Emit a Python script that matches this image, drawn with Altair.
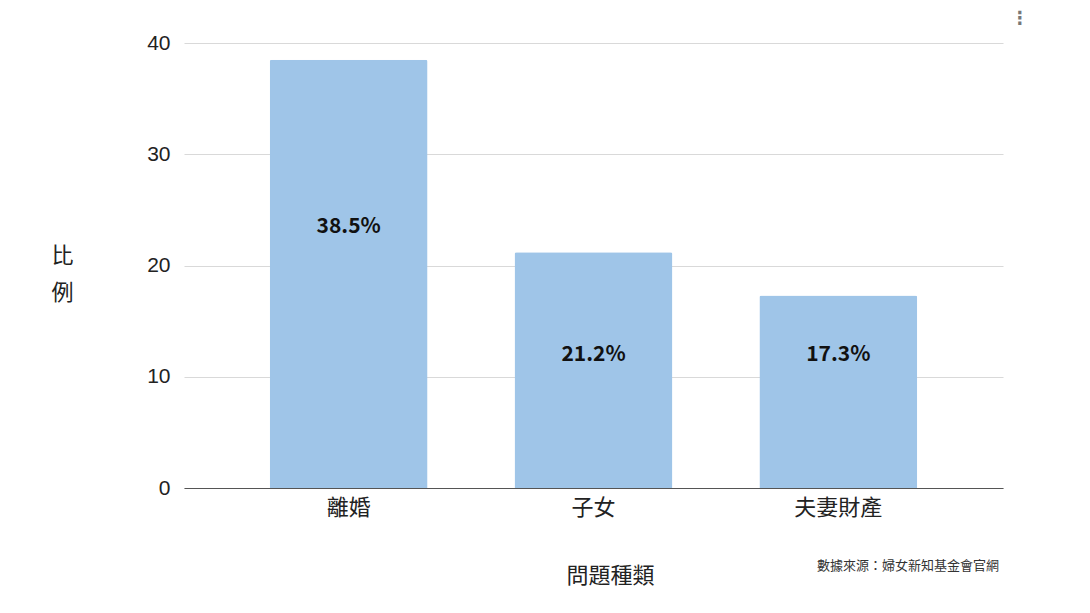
import altair as alt
import pandas as pd

categories = ["離婚", "子女", "夫妻財產"]
values = [38.5, 21.2, 17.3]
labels = ["38.5%", "21.2%", "17.3%"]
label_y = [23.5, 12.0, 12.0]
y_ticks = [0, 10, 20, 30, 40]
source_text = "數據來源：婦女新知基金會官網"

df = pd.DataFrame({"cat": categories, "val": values, "lab": labels, "ly": label_y})

CJK = "Noto Sans CJK TC"

x_enc = alt.X(
    "cat:N",
    sort=categories,
    scale=alt.Scale(paddingInner=0.355, paddingOuter=0.35),
    axis=alt.Axis(
        title="問題種類",
        titleFont=CJK, titleFontSize=22, titleFontWeight="normal", titleColor="#222",
        titleX=426, titleY=87, titleBaseline="middle", titleAlign="center",
        labelFont=CJK, labelFontSize=22, labelColor="#222", labelAngle=0,
        labelPadding=9, ticks=False, domainColor="#555", domainWidth=1,
        grid=False,
    ),
)

bars = alt.Chart(df).mark_bar(color="#9fc5e8", cornerRadiusTopLeft=2, cornerRadiusTopRight=2).encode(
    x=x_enc,
    y=alt.Y(
        "val:Q",
        scale=alt.Scale(domain=[0, 40]),
        axis=alt.Axis(
            values=y_ticks,
            title=["比", "例"],
            titleFont=CJK, titleFontSize=22, titleFontWeight="normal", titleColor="#222",
            titleAngle=0, titleX=-122, titleY=212, titleBaseline="middle", titleAlign="center",
            titleLineHeight=37,
            labelFont="Liberation Sans", labelFontSize=21, labelColor="#222",
            labelPadding=14, ticks=False, domain=False,
            gridColor="#d9d9d9", gridWidth=1,
        ),
    ),
)

text = alt.Chart(df).mark_text(
    font=CJK, fontSize=21, fontWeight="bold", color="#111", baseline="middle"
).encode(
    x=alt.X("cat:N", sort=categories),
    y=alt.Y("ly:Q"),
    text="lab:N",
)

src = alt.Chart(pd.DataFrame({"t": [source_text]})).mark_text(
    font=CJK, fontSize=13, color="#333", align="left", baseline="middle"
).encode(
    x=alt.value(633), y=alt.value(523), text="t:N"
)

dots = alt.Chart(pd.DataFrame({"t": ["⋮"]})).mark_text(
    font="DejaVu Sans", fontSize=18, fontWeight="bold", color="#777", align="center", baseline="middle"
).encode(
    x=alt.value(836), y=alt.value(-24), text="t:N"
)

chart = alt.layer(bars, text, src, dots).properties(
    width=819, height=445,
    background="white",
    autosize=alt.AutoSizeParams(type="none"),
    padding={"left": 176, "top": 35, "right": 79, "bottom": 117},
).configure_view(strokeWidth=0, stroke="transparent")

chart.save("out.html", embed_options={"renderer": "svg", "actions": False})
